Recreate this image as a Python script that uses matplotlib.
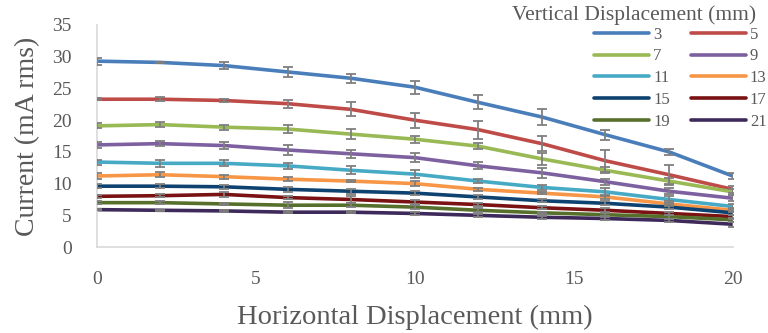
import matplotlib
matplotlib.use("Agg")
import matplotlib.pyplot as plt
from matplotlib.lines import Line2D

plt.rcParams['font.family'] = ['Liberation Serif', 'DejaVu Serif']

x = [0, 2, 4, 6, 8, 10, 12, 14, 16, 18, 20]
labels = ["3", "5", "7", "9", "11", "13", "15", "17", "19", "21"]

v3 = [29.3, 29.1, 28.6, 27.6, 26.6, 25.2, 22.8, 20.5, 17.7, 15.0, 11.2]
v5 = [23.3, 23.3, 23.1, 22.6, 21.7, 20.0, 18.5, 16.3, 13.6, 11.4, 9.1]
v7 = [19.1, 19.3, 18.9, 18.6, 17.8, 17.0, 15.9, 13.9, 12.1, 10.4, 8.7]
v9 = [16.1, 16.3, 16.0, 15.3, 14.7, 14.1, 12.8, 11.7, 10.3, 8.8, 7.7]
v11 = [13.4, 13.2, 13.2, 12.8, 12.1, 11.5, 10.4, 9.4, 8.7, 7.5, 6.4]
v13 = [11.2, 11.4, 11.1, 10.7, 10.4, 10.0, 9.1, 8.5, 7.9, 6.8, 5.8]
v15 = [9.6, 9.6, 9.5, 9.1, 8.8, 8.5, 7.9, 7.3, 6.9, 6.3, 5.4]
v17 = [8.0, 8.1, 8.3, 7.8, 7.5, 7.1, 6.7, 6.2, 5.8, 5.3, 4.8]
v19 = [7.0, 7.0, 6.8, 6.6, 6.6, 6.3, 5.8, 5.4, 5.1, 4.8, 4.3]
v21 = [5.9, 5.8, 5.7, 5.5, 5.5, 5.3, 5.0, 4.7, 4.5, 4.2, 3.6]

e3 = [0.55, 0.1, 0.6, 0.8, 0.75, 1.05, 1.1, 1.3, 0.8, 0.5, 0.5]
e5 = [0.15, 0.3, 0.3, 0.65, 1.1, 1.2, 1.4, 1.2, 1.75, 1.6, 0.6]
e7 = [0.4, 0.4, 0.4, 0.65, 0.75, 0.55, 0.45, 0.9, 0.5, 0.5, 0.5]
e9 = [0.5, 0.4, 0.5, 0.75, 0.6, 0.7, 0.55, 0.75, 0.5, 0.5, 0.5]
e11 = [0.4, 0.6, 0.5, 0.5, 0.6, 0.65, 0.3, 0.35, 0.6, 0.5, 0.4]
e13 = [0.5, 0.4, 0.3, 0.3, 0.2, 0.35, 0.2, 0.2, 0.3, 0.4, 0.3]
e15 = [0.3, 0.3, 0.3, 0.4, 0.4, 0.3, 0.3, 0.2, 0.3, 0.3, 0.3]
e17 = [0.2, 0.2, 0.45, 0.3, 0.5, 0.3, 0.3, 0.2, 0.3, 0.3, 0.3]
e19 = [0.2, 0.2, 0.2, 0.45, 0.3, 0.3, 0.3, 0.2, 0.2, 0.3, 0.3]
e21 = [0.1, 0.1, 0.1, 0.2, 0.2, 0.2, 0.2, 0.2, 0.2, 0.2, 0.4]

series = [v3, v5, v7, v9, v11, v13, v15, v17, v19, v21]
errors = [e3, e5, e7, e9, e11, e13, e15, e17, e19, e21]
colors = ["#4a7ebb", "#be4b48", "#98b954", "#7d60a0", "#46aac5",
          "#f79646", "#0e4270", "#7a1214", "#56702c", "#3e2a5a"]

fig = plt.figure(figsize=(7.68, 3.33), dpi=100)
ax = fig.add_axes([0.126, 0.258, 0.828, 0.667])

for vals, c in zip(series, colors):
    ax.plot(x, vals, color=c, lw=2.6, solid_capstyle='round', zorder=2)
for vals, errs in zip(series, errors):
    ax.errorbar(x, vals, yerr=errs, fmt='none', ecolor='#7f7f7f',
                elinewidth=1.3, capsize=3.5, capthick=1.3, zorder=3)

ax.set_xlim(0, 20)
ax.set_ylim(0, 35)
ax.set_xticks([0, 5, 10, 15, 20])
ax.set_yticks([0, 5, 10, 15, 20, 25, 30, 35])
ax.tick_params(length=0, labelsize=14, labelcolor='#595959')
ax.tick_params(axis='y', pad=18)
ax.tick_params(axis='x', pad=17)
for s in ['top', 'right']:
    ax.spines[s].set_visible(False)
for s in ['left', 'bottom']:
    ax.spines[s].set_color('#d9d9d9')
    ax.spines[s].set_linewidth(1.2)

ax.set_xlabel("Horizontal Displacement (mm)", fontsize=20.5, color='#595959', labelpad=12)
ax.set_ylabel("Current (mA rms)", fontsize=20, color='#595959', labelpad=9)

# row-wise legend order (3,5 / 7,9 / ...)
order = [0, 2, 4, 6, 8, 1, 3, 5, 7, 9]
handles = [Line2D([0], [0], color=colors[i], lw=2.6, solid_capstyle='round') for i in order]
leg_labels = [labels[i] for i in order]
leg = fig.legend(handles, leg_labels, ncol=2, loc='upper left',
                 bbox_to_anchor=(0.7605, 0.950), frameon=False,
                 fontsize=12, labelcolor='#595959', handlelength=3.3,
                 handletextpad=0.25, columnspacing=1.25, labelspacing=0.35,
                 borderpad=0.1)
fig.text(0.985, 0.985, "Vertical Displacement (mm)", ha='right', va='top',
         fontsize=15.5, color='#595959')

fig.savefig("out.png", dpi=100)
